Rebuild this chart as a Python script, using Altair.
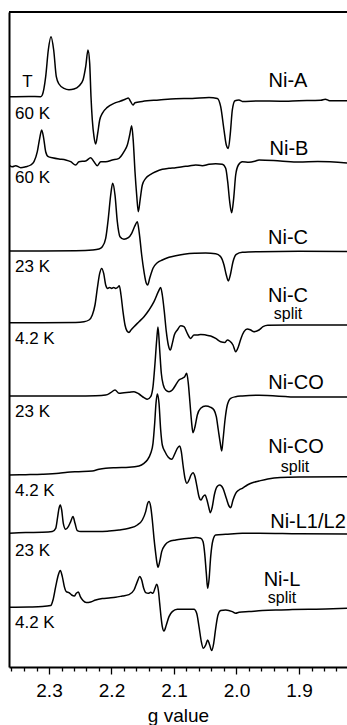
import altair as alt
import pandas as pd

# ---------------- spectra (g value, intensity relative to baseline, arbitrary units) ----------------
nia_g = [2.364, 2.332, 2.3133, 2.3107, 2.3053, 2.3011, 2.2968, 2.2925, 2.2883, 2.284, 2.276, 2.268, 2.26,
         2.252, 2.2456, 2.2413, 2.2376, 2.2349, 2.2328, 2.2307, 2.228, 2.2253, 2.2221, 2.2189, 2.2147,
         2.2067, 2.196, 2.1853, 2.1773, 2.1731, 2.1693, 2.1656, 2.1624, 2.1507, 2.124, 2.0973, 2.0707,
         2.044, 2.0307, 2.0253, 2.02, 2.0163, 2.0131, 2.0099, 2.0067, 2.0024, 1.996, 1.9907, 1.964,
         1.93, 1.9, 1.865, 1.858, 1.851, 1.8232]
nia_i = [0, 0.3, 0, 1.7, 20, 46.7, 60, 46.7, 20, 12.7, 8.3, 7, 7.7,
         10.7, 16.7, 30, 46.7, 33.3, 0, -23.3, -40, -47.3, -36.7, -23.3, -16.7,
         -10.7, -6.7, -4.3, -2.3, -1.3, -5, -8.3, -6, -4.7, -3.3, -2, -1.7,
         -0.7, -1.7, -10, -33.3, -48.3, -51.7, -36.7, -13.3, -4, -3.3, -4.7, -4.3,
         -4.5, -4, -3.5, -2.5, -4, -4]

nib_g = [2.364, 2.3587, 2.3533, 2.3453, 2.3373, 2.3293, 2.324, 2.3187, 2.3149, 2.3117, 2.3085, 2.3053,
         2.3011, 2.2947, 2.284, 2.2733, 2.2653, 2.2573, 2.252, 2.2413, 2.2333, 2.228, 2.2227, 2.2173,
         2.2093, 2.1987, 2.188, 2.18, 2.1747, 2.1709, 2.1677, 2.1651, 2.1624, 2.1597, 2.1571, 2.1539,
         2.1507, 2.1453, 2.1373, 2.1293, 2.1187, 2.108, 2.0973, 2.0867, 2.076, 2.0653, 2.0547, 2.044,
         2.0333, 2.0227, 2.0173, 2.0141, 2.0109, 2.0077, 2.0045, 2.0013, 1.997, 1.9907, 1.98, 1.9693,
         1.964, 1.93, 1.9, 1.87, 1.8232]
nib_i = [0, -1.7, -0.7, -2.7, -1.7, 0, 3.3, 13.3, 26.7, 35, 26.7, 13.3,
         8.3, 7.3, 6, 5, 3.3, 0, 3.3, 4, 7.3, 3.3, -0.7, 3.3,
         3.3, 5, 6.7, 13.3, 20, 30, 39.3, 23.3, -6.7, -30, -46.7, -33.3,
         -20, -13.3, -9.3, -6.7, -4.3, -3.3, -2.7, -1.7, -1, 0, -0.7, 0.7,
         1.3, 0.7, -3.3, -16.7, -36.7, -47.7, -33.3, -10, 0, 3.3, 2.7, 4,
         5, 4, 3, 3.5, 2]

nic_g = [2.364, 2.3107, 2.2573, 2.2307, 2.22, 2.2147, 2.2093, 2.2051, 2.2013, 2.1981, 2.1944, 2.1907,
         2.1864, 2.18, 2.1731, 2.1677, 2.1624, 2.1587, 2.1555, 2.1517, 2.148, 2.1443, 2.1421, 2.1389,
         2.1336, 2.1267, 2.1187, 2.108, 2.0973, 2.0813, 2.0653, 2.0493, 2.0333, 2.0253, 2.02, 2.0163,
         2.0131, 2.0099, 2.0056, 2.0003, 1.9907, 1.964, 1.9, 1.8232]
nic_i = [0, 0, 0.3, 1, 2, 4.3, 12.7, 32.7, 56, 67.7, 56, 29.3,
         14.3, 11.7, 13.3, 17.7, 25.3, 29.3, 17.7, -4, -20.7, -32.3, -34, -27.3,
         -17.3, -11.7, -9, -6.3, -4.7, -3, -2.3, -2, -2.7, -5.7, -14, -24,
         -30, -24, -10.7, -3.3, -1.3, -0.7, -0.3, -0.5]

nics_g = [2.364, 2.3107, 2.2573, 2.244, 2.236, 2.2307, 2.2264, 2.2227, 2.2189, 2.2157, 2.2125, 2.2093,
          2.2061, 2.2029, 2.1997, 2.1965, 2.1933, 2.1901, 2.1875, 2.1848, 2.1816, 2.1784, 2.1752, 2.172,
          2.1688, 2.164, 2.156, 2.148, 2.14, 2.132, 2.1251, 2.1213, 2.1187, 2.1155, 2.1123, 2.1091,
          2.1059, 2.1027, 2.0995, 2.0947, 2.0893, 2.084, 2.0787, 2.0733, 2.068, 2.0627, 2.0573, 2.0493,
          2.0413, 2.0333, 2.0253, 2.0184, 2.0147, 2.0109, 2.0056, 2.0013, 1.997, 1.9928, 1.988, 1.9827,
          1.9773, 1.972, 1.964, 1.9576, 1.95, 1.9, 1.8232]
nics_i = [0, 0, 0.3, 1, 2.7, 7.7, 17.7, 34.3, 49.3, 54.3, 49.3, 37.7,
          34.3, 35.3, 34.3, 35.3, 34.3, 35.3, 37, 27.7, 11, -2.3, -8.3, -9.7,
          -7.3, -4, 1, 6, 12.7, 21, 31, 35.3, 27.7, 11, -9, -22.3,
          -27.3, -20.7, -12.3, -7.3, -3, -4, -10.7, -15.7, -12.3, -12.3, -11.7, -12.3,
          -13.3, -15.7, -19, -19.7, -17.3, -18.3, -22.3, -29, -24, -15.7, -9, -6.3,
          -7.3, -9, -7.3, -4, -2.5, -2.3, -2.3]

nico_g = [2.364, 2.3107, 2.2573, 2.2253, 2.2093, 2.2013, 2.1944, 2.188, 2.18, 2.172, 2.164, 2.156,
          2.148, 2.1427, 2.1373, 2.1336, 2.1304, 2.1277, 2.1256, 2.1229, 2.1203, 2.1171, 2.1133, 2.108,
          2.1027, 2.0973, 2.092, 2.0867, 2.0829, 2.0797, 2.0771, 2.0744, 2.0717, 2.0696, 2.0664, 2.0627,
          2.0573, 2.0493, 2.0413, 2.036, 2.0323, 2.0291, 2.0259, 2.0237, 2.0216, 2.0184, 2.0147, 2.0093,
          2.0013, 1.9907, 1.964, 1.9, 1.8232]
nico_i = [0, 0, 0, 0.3, 1, 3.3, 6, 2.7, 3.3, 3.7, 4.3, 2,
          -1.7, -3.3, -0.7, 9.3, 32.7, 56, 69, 46, 22.7, 11, 6, 4.3,
          6, 11, 16, 17.7, 19.3, 22.7, 12.7, -7.3, -27.3, -36.7, -30.7, -19,
          -12.3, -10, -11.3, -14, -20.7, -34, -47.3, -55, -44, -24, -9, -2.3,
          -0.7, 0, 0.7, -1, -1]

nicos_g = [2.364, 2.3373, 2.3107, 2.284, 2.2707, 2.2573, 2.2307, 2.22, 2.2093, 2.1933, 2.172, 2.156,
           2.148, 2.1427, 2.1373, 2.1336, 2.1309, 2.1288, 2.1267, 2.124, 2.1213, 2.1187, 2.1144, 2.1091,
           2.1037, 2.0984, 2.0947, 2.0909, 2.0883, 2.0856, 2.0824, 2.0792, 2.076, 2.0728, 2.0696, 2.0664,
           2.0632, 2.06, 2.0568, 2.0536, 2.0504, 2.0472, 2.044, 2.0419, 2.0387, 2.0355, 2.0312, 2.0269,
           2.0216, 2.0163, 2.012, 2.0093, 2.0056, 2.0013, 1.996, 1.9907, 1.9827, 1.9747, 1.964, 1.95,
           1.93, 1.9, 1.8232]
nicos_i = [0, 0.3, 0.7, 1.7, 2.7, 3.3, 4, 5.7, 6.7, 7.3, 7.7, 9,
           11.7, 15, 21.7, 31.7, 51.7, 71.7, 81, 71.7, 45, 30, 23.3, 17.7,
           15.7, 21.7, 26.7, 29, 23.3, 10, -3.3, -8.3, -5, 0, 2.3, -1.7,
           -11.7, -21.7, -25, -21.7, -20, -25, -33.3, -37.7, -31.7, -20, -11.7, -10,
           -13.3, -23.3, -31, -32.7, -25, -18.3, -15, -13.3, -10, -7.7, -6, -4,
           -2.5, -2, -1.7]

nil12_g = [2.364, 2.3373, 2.3107, 2.2947, 2.2893, 2.2861, 2.284, 2.2819, 2.2797, 2.2771, 2.2733, 2.2691,
           2.2653, 2.2616, 2.2584, 2.2547, 2.2493, 2.236, 2.22, 2.204, 2.188, 2.172, 2.1587, 2.1507,
           2.1453, 2.1421, 2.14, 2.1373, 2.1347, 2.132, 2.1293, 2.1272, 2.1256, 2.1229, 2.1197, 2.1144,
           2.108, 2.0973, 2.0867, 2.076, 2.0653, 2.0573, 2.0536, 2.0509, 2.0483, 2.0461, 2.044, 2.0413,
           2.0376, 2.0333, 2.0173, 1.9907, 1.964, 1.9, 1.8232]
nil12_i = [0, 0.7, 1, 1.7, 5, 16.7, 25, 28.3, 23.3, 10, 4, 6.7,
           11.7, 16.7, 10, 2.7, 1.7, 1.7, 1.7, 2.3, 3.3, 5, 8.3, 13.3,
           21.7, 30, 31.7, 26.7, 13.3, -5, -20, -30, -34, -28.3, -18.3, -11.7,
           -8.3, -6.7, -5.7, -5, -4.3, -5, -8.3, -20, -40, -55, -46.7, -23.3,
           -6.7, -1.7, -1, 0, 0, -0.5, -0.7]

nil_g = [2.364, 2.332, 2.3107, 2.2973, 2.2936, 2.2893, 2.2851, 2.2819, 2.2787, 2.2755, 2.2723, 2.268,
         2.2637, 2.2595, 2.2563, 2.2531, 2.2499, 2.2456, 2.2403, 2.2333, 2.2253, 2.2147, 2.204, 2.1933,
         2.1827, 2.172, 2.164, 2.1587, 2.1549, 2.1517, 2.1485, 2.1453, 2.1411, 2.1373, 2.1336, 2.1304,
         2.1277, 2.1251, 2.1229, 2.1208, 2.1187, 2.116, 2.1123, 2.108, 2.1027, 2.0947, 2.0867, 2.076,
         2.068, 2.0637, 2.06, 2.0563, 2.0531, 2.0493, 2.0461, 2.0429, 2.0397, 2.0365, 2.0333, 2.0296,
         2.0253, 2.0173, 2.0067, 2.0013, 1.996, 1.98, 1.9587, 1.9373, 1.9107, 1.884, 1.8573, 1.8232]
nil_i = [0, 0.3, 0.7, 1.7, 7.3, 20.7, 32.3, 36.7, 30.7, 20.7, 15.7, 14.7,
         12.3, 11.3, 14, 15.3, 10.7, 6.7, 4.7, 5.3, 7.3, 8.7, 9.3, 10,
         11.3, 12.7, 17.3, 25.7, 30.7, 27.3, 19, 14.7, 14, 15, 14, 19,
         23, 17.3, 4, -9.3, -19.3, -23.7, -17.7, -9.3, -4.3, -2, -2, -2,
         -2, -6, -19.3, -34.3, -41, -37.7, -32.7, -37.7, -43.3, -36, -21, -7.7,
         -3.3, -2.7, -4.3, -6, -5, -4.3, -3.3, -2.7, -2.3, -2, -1.7, -1]

spectra = ["Ni-A", "Ni-B", "Ni-C", "Ni-C split", "Ni-CO", "Ni-CO split", "Ni-L1/L2", "Ni-L split"]
spectra_g = [nia_g, nib_g, nic_g, nics_g, nico_g, nicos_g, nil12_g, nil_g]
spectra_i = [nia_i, nib_i, nic_i, nics_i, nico_i, nicos_i, nil12_i, nil_i]
offsets = [570.3, 502, 416, 344.3, 271, 192, 133.7, 59.7]

# ---------------- labels ----------------
name_text = ["Ni-A", "Ni-B", "Ni-C", "Ni-C", "Ni-CO", "Ni-CO", "Ni-L1/L2", "Ni-L"]
name_g = [1.9176, 1.916, 1.9176, 1.9176, 1.9048, 1.9048, 1.8856, 1.9272]
name_y = [586, 518, 429, 371, 284, 220, 145, 87]

split_text = ["split", "split", "split"]
split_g = [1.9176, 1.9064, 1.9272]
split_y = [353, 200, 69]

temp_text = ["60 K", "60 K", "23 K", "4.2 K", "23 K", "4.2 K", "23 K", "4.2 K"]
temp_g = [2.3544] * 8
temp_y = [553, 489, 400, 328, 255, 176, 116, 44]

t_text = ["T"]
t_g = [2.3344]
t_y = [585]

tick_values = [2.36, 2.34, 2.32, 2.30, 2.28, 2.26, 2.24, 2.22, 2.20, 2.18, 2.16, 2.14, 2.12, 2.10,
               2.08, 2.06, 2.04, 2.02, 2.00, 1.98, 1.96, 1.94, 1.92, 1.90, 1.88, 1.86, 1.84]

# ---------------- build tables ----------------
rows = []
for name, gs, ins, off in zip(spectra, spectra_g, spectra_i, offsets):
    for k, (g, v) in enumerate(zip(gs, ins)):
        rows.append({"spectrum": name, "order": k, "g": g, "y": off + v})
df = pd.DataFrame(rows)

names_df = pd.DataFrame({"g": name_g, "y": name_y, "text": name_text})
split_df = pd.DataFrame({"g": split_g, "y": split_y, "text": split_text})
temp_df = pd.DataFrame({"g": temp_g, "y": temp_y, "text": temp_text})
t_df = pd.DataFrame({"g": t_g, "y": t_y, "text": t_text})

FONT = "Liberation Sans"
major_test = "abs(datum.value * 10 - round(datum.value * 10)) < 0.001"

xscale = alt.Scale(domain=[1.8232, 2.364], reverse=True, nice=False, zero=False)
yscale = alt.Scale(domain=[0, 655], nice=False, zero=False)
xaxis = alt.Axis(
    values=tick_values,
    labelExpr=f"({major_test}) ? format(datum.value, '.1f') : ''",
    tickSize={"condition": {"test": major_test, "value": 7}, "value": 4},
    tickColor="black", tickWidth=1.3,
    domainColor="black", domainWidth=2,
    labelFont=FONT, labelFontSize=19, labelColor="black", labelPadding=7,
    labelOverlap=False, labelFlush=False,
    title="g value", titleFont=FONT, titleFontSize=19, titleFontWeight="normal",
    titleColor="black", titlePadding=6, grid=False,
)
yaxis = alt.Axis(ticks=False, labels=False, title=None, grid=False,
                 domainColor="black", domainWidth=2)

X = alt.X("g:Q", scale=xscale, axis=xaxis)
Y = alt.Y("y:Q", scale=yscale, axis=yaxis)

lines = alt.Chart(df).mark_line(color="black", strokeWidth=1.5, clip=True,
                                interpolate="monotone").encode(
    x=X, y=Y, detail="spectrum:N", order="order:Q")

names = alt.Chart(names_df).mark_text(font=FONT, fontSize=20, align="center",
                                      baseline="middle", color="black").encode(
    x=X, y=Y, text="text:N")
splits = alt.Chart(split_df).mark_text(font=FONT, fontSize=16, align="center",
                                       baseline="middle", color="black").encode(
    x=X, y=Y, text="text:N")
temps = alt.Chart(temp_df).mark_text(font=FONT, fontSize=17, align="left",
                                     baseline="middle", color="black").encode(
    x=X, y=Y, text="text:N")
tlab = alt.Chart(t_df).mark_text(font=FONT, fontSize=17, align="center",
                                 baseline="middle", color="black").encode(
    x=X, y=Y, text="text:N")

top_border = alt.Chart(pd.DataFrame({"a": [0]})).mark_rule(
    color="black", strokeWidth=2).encode(
    x=alt.value(0), x2=alt.value(338), y=alt.value(0))

chart = alt.layer(lines, names, splits, temps, tlab, top_border).properties(
    width=338, height=655,
    padding={"left": 9, "top": 12, "right": 0, "bottom": 58},
    autosize=alt.AutoSizeParams(type="none"),
    background="white",
).configure_view(stroke=None)

chart.save("out.html", embed_options={"renderer": "svg", "actions": False})
